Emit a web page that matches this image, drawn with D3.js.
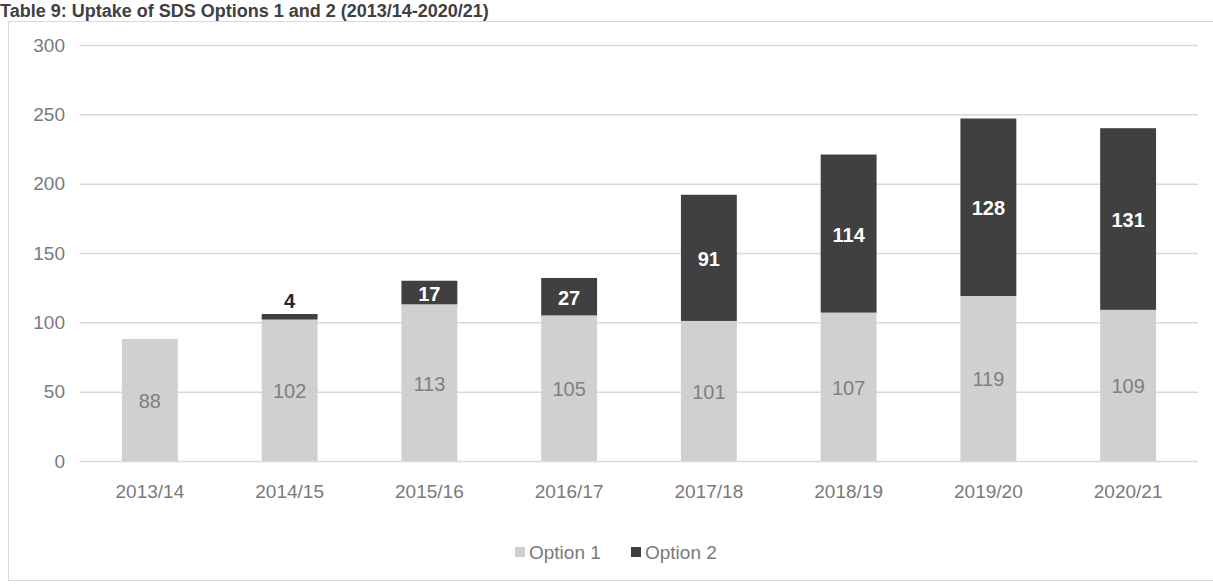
<!DOCTYPE html>
<html>
<head>
<meta charset="utf-8">
<script src="https://cdn.jsdelivr.net/npm/d3@7"></script>
<style>
  body { margin: 0; background: #fff; }
  text { font-family: "Liberation Sans", Arial, sans-serif; }
</style>
</head>
<body>
<div id="chart"></div>
<script>
var years = ["2013/14", "2014/15", "2015/16", "2016/17", "2017/18", "2018/19", "2019/20", "2020/21"];
var option1 = [88, 102, 113, 105, 101, 107, 119, 109];
var option2 = [0, 4, 17, 27, 91, 114, 128, 131];
var yTicks = [0, 50, 100, 150, 200, 250, 300];
var seriesNames = ["Option 1", "Option 2"];
var colors = ["#d0d0d0", "#404040"];

var W = 1213, H = 587;
var margin = { top: 45, right: 15, bottom: 126, left: 80 };
var width = W - margin.left - margin.right,
    height = H - margin.top - margin.bottom;

var svg = d3.select("#chart").append("svg")
    .attr("width", W)
    .attr("height", H);

// title
svg.append("text")
    .attr("x", 0)
    .attr("y", 17)
    .attr("font-size", 18)
    .attr("font-weight", "bold")
    .attr("fill", "#404040")
    .text("Table 9: Uptake of SDS Options 1 and 2 (2013/14-2020/21)");

// chart frame
svg.append("rect")
    .attr("x", 8.5)
    .attr("y", 21.5)
    .attr("width", W)
    .attr("height", 559)
    .attr("fill", "none")
    .attr("stroke", "#d9d9d9");

var g = svg.append("g")
    .attr("transform", "translate(" + margin.left + "," + margin.top + ")");

var x = d3.scaleBand()
    .domain(years)
    .range([0, width])
    .paddingInner(0.6)
    .paddingOuter(0.3);

var y = d3.scaleLinear()
    .domain([0, 300])
    .range([height, 0]);

// gridlines + y labels
var yAxis = d3.axisLeft(y)
    .tickValues(yTicks)
    .tickSize(-width)
    .tickPadding(15);

var gy = g.append("g").call(yAxis);
gy.select(".domain").remove();
gy.selectAll("line").attr("stroke", "#d9d9d9").attr("stroke-width", 1.5);
gy.selectAll("text").attr("fill", "#7a7a7a").attr("font-size", 19)
    .style("font-family", "'Liberation Sans', Arial, sans-serif");

// x labels
var xAxis = d3.axisBottom(x).tickSize(0).tickPadding(24);
var gx = g.append("g")
    .attr("transform", "translate(0," + height + ")")
    .call(xAxis);
gx.select(".domain").remove();
gx.selectAll("text").attr("fill", "#7a7a7a").attr("font-size", 19)
    .style("font-family", "'Liberation Sans', Arial, sans-serif");

// stacked data
var rows = years.map(function (d, i) {
    return { year: d, o1: option1[i], o2: option2[i] };
});
var stack = d3.stack().keys(["o1", "o2"]);
var layers = stack(rows);

var layer = g.selectAll(".layer")
    .data(layers)
    .enter()
    .append("g")
    .attr("fill", function (d, i) { return colors[i]; });

layer.selectAll("rect")
    .data(function (d) { return d; })
    .enter()
    .append("rect")
    .attr("x", function (d) { return x(d.data.year); })
    .attr("width", x.bandwidth())
    .attr("y", function (d) { return y(d[1]); })
    .attr("height", function (d) { return y(d[0]) - y(d[1]); });

// option 1 labels
g.selectAll(".lab1")
    .data(rows)
    .enter()
    .append("text")
    .attr("text-anchor", "middle")
    .attr("x", function (d) { return x(d.year) + x.bandwidth() / 2; })
    .attr("y", function (d) { return y(d.o1 / 2) + 8; })
    .attr("font-size", 20)
    .attr("fill", "#808080")
    .text(function (d) { return d.o1; });

// option 2 labels (small segment gets its label above the bar)
g.selectAll(".lab2")
    .data(rows.filter(function (d) { return d.o2 > 0; }))
    .enter()
    .append("text")
    .attr("text-anchor", "middle")
    .attr("x", function (d) { return x(d.year) + x.bandwidth() / 2; })
    .attr("y", function (d) {
        if (d.o2 < 10) return y(d.o1 + d.o2) - 6;
        return y(d.o1 + d.o2 / 2) + 8;
    })
    .attr("font-size", 20)
    .attr("font-weight", "bold")
    .attr("fill", function (d) { return d.o2 < 10 ? "#262626" : "#ffffff"; })
    .text(function (d) { return d.o2; });

// legend
var legend = svg.append("g")
    .attr("transform", "translate(515,552)");
var legX = [0, 116];
seriesNames.forEach(function (name, i) {
    legend.append("rect")
        .attr("x", legX[i])
        .attr("y", -5)
        .attr("width", 10)
        .attr("height", 10)
        .attr("fill", colors[i]);
    legend.append("text")
        .attr("x", legX[i] + 14)
        .attr("y", 7)
        .attr("font-size", 19)
        .attr("fill", "#7a7a7a")
        .text(name);
});
</script>
</body>
</html>
